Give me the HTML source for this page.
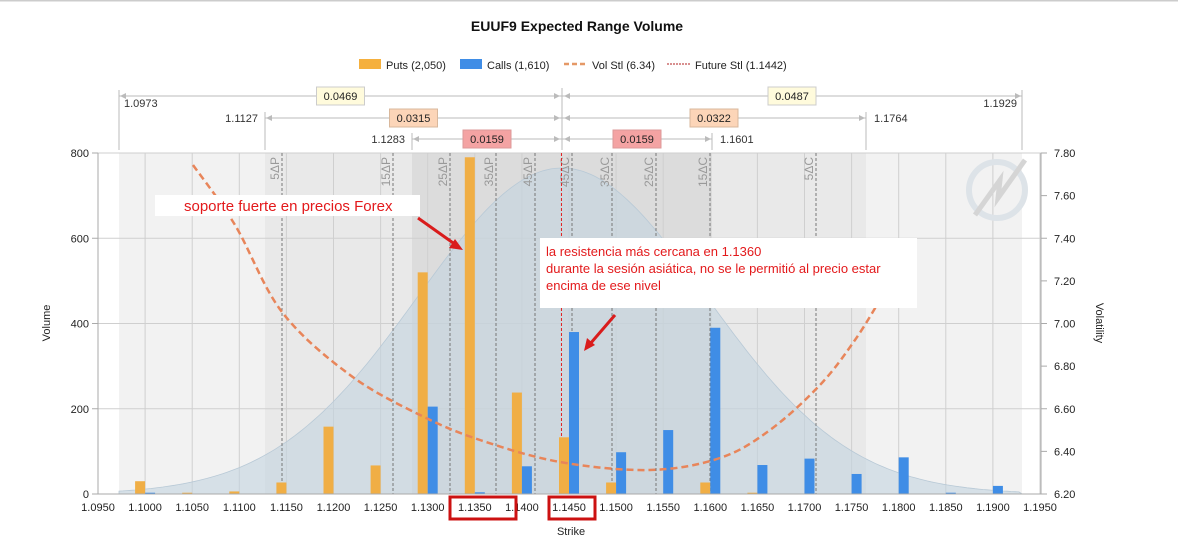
<!DOCTYPE html>
<html><head><meta charset="utf-8"><style>
html,body{margin:0;padding:0;background:#fff;}
svg{display:block;font-family:"Liberation Sans",Arial,sans-serif;}
</style></head><body>
<svg id="s" width="1178" height="547" xmlns="http://www.w3.org/2000/svg"></svg>
<script>
const s=document.getElementById('s');
let h='';
const X=v=>98+(v-1.095)*9420;
const Y=v=>494-v*0.42625;
const YV=v=>494-(v-6.2)*213.125;
h+=`<rect x="0" y="0" width="1178" height="1.5" fill="#ccc"/>`;
h+=`<text x="577" y="31" text-anchor="middle" font-size="14" font-weight="bold" fill="#111">EUUF9 Expected Range Volume</text>`;
h+=`<rect x="359" y="59" width="22" height="10" fill="#f5b03e"/><text x="386" y="69" font-size="11" fill="#222">Puts (2,050)</text>`;
h+=`<rect x="460" y="59" width="22" height="10" fill="#3f8de6"/><text x="487" y="69" font-size="11" fill="#222">Calls (1,610)</text>`;
h+=`<line x1="564" y1="64" x2="586" y2="64" stroke="#e59866" stroke-width="2.5" stroke-dasharray="5,3"/><text x="592" y="69" font-size="11" fill="#222">Vol Stl (6.34)</text>`;
h+=`<line x1="667" y1="64" x2="690" y2="64" stroke="#b02020" stroke-width="1" stroke-dasharray="2,1"/><text x="695" y="69" font-size="11" fill="#222">Future Stl (1.1442)</text>`;
h+=`<rect x="98" y="153" width="943" height="341" fill="#fff"/>`;
h+=`<rect x="119" y="153" width="903" height="341" fill="#f2f2f2"/>`;
h+=`<rect x="265" y="153" width="601" height="341" fill="#e9e9e9"/>`;
h+=`<rect x="412" y="153" width="300" height="341" fill="#dcdcdc"/>`;
for(let i=0;i<=20;i++){const x=X(1.095+i*0.005);h+=`<line x1="${x}" y1="153" x2="${x}" y2="494" stroke="#cfcfcf" stroke-width="1"/>`;}
for(let v=0;v<=800;v+=200){h+=`<line x1="98" y1="${Y(v)}" x2="1041" y2="${Y(v)}" stroke="#cfcfcf"/>`;}
let p='M119,494 ';
for(let x=119;x<=1022;x+=4){const y=494-326*Math.exp(-((x-562)**2)/(2*144*144));p+=`L${x},${y.toFixed(1)} `;}
p+='L1022,494 Z';
h+=`<path d="${p}" fill="#c3d3df" fill-opacity="0.6" stroke="#b8c9d6" stroke-width="0.8"/>`;
const dl=[[282,'5ΔP'],[393,'15ΔP'],[450,'25ΔP'],[496,'35ΔP'],[535,'45ΔP'],[572,'45ΔC'],[612,'35ΔC'],[656,'25ΔC'],[710,'15ΔC'],[816,'5ΔC']];
dl.forEach(([x,t])=>{h+=`<line x1="${x}" y1="153" x2="${x}" y2="494" stroke="#777" stroke-dasharray="3,2" stroke-width="1"/>`;
h+=`<text transform="translate(${x-3},157) rotate(-90)" text-anchor="end" font-size="12" fill="#999">${t}</text>`;});
h+=`<line x1="${X(1.1442)}" y1="153" x2="${X(1.1442)}" y2="494" stroke="#e02020" stroke-dasharray="3,2" stroke-width="1"/>`;
const puts={1.1:30,1.105:3,1.11:6,1.115:27,1.12:158,1.125:67,1.13:520,1.135:790,1.14:238,1.145:133,1.15:27,1.16:27,1.165:3};
const calls={1.1:3,1.13:205,1.135:4,1.14:65,1.145:380,1.15:98,1.155:150,1.16:390,1.165:68,1.17:83,1.175:47,1.18:86,1.185:3,1.19:19};
for(const k in puts){const x=X(+k);h+=`<rect x="${x-10}" y="${Y(puts[k])}" width="10" height="${puts[k]*0.42625}" fill="#f0ae45"/>`;}
for(const k in calls){const x=X(+k);h+=`<rect x="${x}" y="${Y(calls[k])}" width="10" height="${calls[k]*0.42625}" fill="#3f8de6"/>`;}
// vol curve via catmull-rom
const pts=[[193,165],[235,225],[282,312],[350,375],[420,415],[480,440],[560,462],[650,470],[720,458],[770,430],[820,385],[855,340],[880,300]];
let q=`M${pts[0][0]},${pts[0][1]} `;
for(let i=0;i<pts.length-1;i++){const p0=pts[Math.max(0,i-1)],p1=pts[i],p2=pts[i+1],p3=pts[Math.min(pts.length-1,i+2)];
q+=`C${(p1[0]+(p2[0]-p0[0])/6).toFixed(1)},${(p1[1]+(p2[1]-p0[1])/6).toFixed(1)} ${(p2[0]-(p3[0]-p1[0])/6).toFixed(1)},${(p2[1]-(p3[1]-p1[1])/6).toFixed(1)} ${p2[0]},${p2[1]} `;}
h+=`<path d="${q}" fill="none" stroke="#e8855a" stroke-width="2.5" stroke-dasharray="7,4"/>`;
h+=`<line x1="98" y1="153" x2="98" y2="494" stroke="#aaa"/><line x1="98" y1="494" x2="1041" y2="494" stroke="#aaa"/><line x1="1041" y1="153" x2="1041" y2="494" stroke="#aaa"/>`;
for(let v=0;v<=800;v+=200){h+=`<line x1="92" y1="${Y(v)}" x2="98" y2="${Y(v)}" stroke="#aaa"/><text x="89" y="${Y(v)+4}" text-anchor="end" font-size="11" fill="#222">${v}</text>`;}
for(let i=0;i<=8;i++){const v=6.2+i*0.2;const y=YV(v);h+=`<line x1="1041" y1="${y}" x2="1047" y2="${y}" stroke="#aaa"/><text x="1054" y="${y+4}" font-size="11" fill="#222">${v.toFixed(2)}</text>`;}
for(let i=0;i<=20;i++){const v=1.095+i*0.005;const x=X(v);h+=`<text x="${x}" y="511" text-anchor="middle" font-size="11" fill="#222">${v.toFixed(4)}</text>`;}
h+=`<text x="571" y="535" text-anchor="middle" font-size="11" fill="#222">Strike</text>`;
h+=`<text transform="translate(50,323) rotate(-90)" text-anchor="middle" font-size="11" fill="#222">Volume</text>`;
h+=`<text transform="translate(1096,323) rotate(90)" text-anchor="middle" font-size="11" fill="#222">Volatility</text>`;
function br(y,l,r,lb,rb,fill,stroke){
 h+=`<line x1="${l}" y1="${y}" x2="${r}" y2="${y}" stroke="#bbb"/>`;
 h+=`<line x1="${l}" y1="${y-6}" x2="${l}" y2="150" stroke="#bbb"/><line x1="${r}" y1="${y-6}" x2="${r}" y2="150" stroke="#bbb"/><line x1="562" y1="88" x2="562" y2="150" stroke="#bbb"/>`;
 [[l+1,1],[560,-1],[564,1],[r-1,-1]].forEach(([x,d])=>{h+=`<path d="M${x},${y} l${6*d},-3 v6z" fill="#bbb"/>`;});
 const bl=(l+562)/2,brx=(562+r)/2;
 [[bl,lb],[brx,rb]].forEach(([c,t])=>{h+=`<rect x="${c-24}" y="${y-9}" width="48" height="18" fill="${fill}" stroke="${stroke}"/><text x="${c}" y="${y+4}" text-anchor="middle" font-size="11" fill="#222">${t}</text>`;});
}
br(96,119,1022,'0.0469','0.0487','#fffbdc','#ccc');
h+=`<text x="124" y="107" font-size="11" fill="#333">1.0973</text><text x="1017" y="107" text-anchor="end" font-size="11" fill="#333">1.1929</text>`;
br(118,265,866,'0.0315','0.0322','#fcd5b8','#d9b89c');
h+=`<text x="258" y="122" text-anchor="end" font-size="11" fill="#333">1.1127</text><text x="874" y="122" font-size="11" fill="#333">1.1764</text>`;
br(139,412,712,'0.0159','0.0159','#f4a3a3','#d99');
h+=`<text x="405" y="143" text-anchor="end" font-size="11" fill="#333">1.1283</text><text x="720" y="143" font-size="11" fill="#333">1.1601</text>`;
h+=`<circle cx="997" cy="190" r="28" fill="none" stroke="#dde3e8" stroke-width="6"/><path d="M975,215 L1000,180 L998,198 L1025,160" fill="none" stroke="#d5d5d5" stroke-width="5"/>`;
h+=`<rect x="155" y="195" width="265" height="21" fill="#fff"/><text x="184" y="211" font-size="15" fill="#e3191b">soporte fuerte en precios Forex</text>`;
h+=`<line x1="418" y1="218" x2="456" y2="245" stroke="#d91c1c" stroke-width="3"/><path d="M463,250 l-14,-2 l6,-9z" fill="#d91c1c"/>`;
h+=`<rect x="540" y="238" width="377" height="70" fill="#fff"/>`;
h+=`<text font-size="13" fill="#e3191b"><tspan x="546" y="256">la resistencia más cercana en 1.1360</tspan><tspan x="546" y="273">durante la sesión asiática, no se le permitió al precio estar</tspan><tspan x="546" y="290">encima de ese nivel</tspan></text>`;
h+=`<line x1="615" y1="315" x2="590" y2="344" stroke="#d91c1c" stroke-width="3"/><path d="M584,351 l3,-13 l8,7z" fill="#d91c1c"/>`;
h+=`<rect x="450" y="497" width="66" height="22" fill="none" stroke="#cc1111" stroke-width="3"/>`;
h+=`<rect x="549" y="497" width="46" height="22" fill="none" stroke="#cc1111" stroke-width="3"/>`;
s.innerHTML=h;
</script>
</body></html>
